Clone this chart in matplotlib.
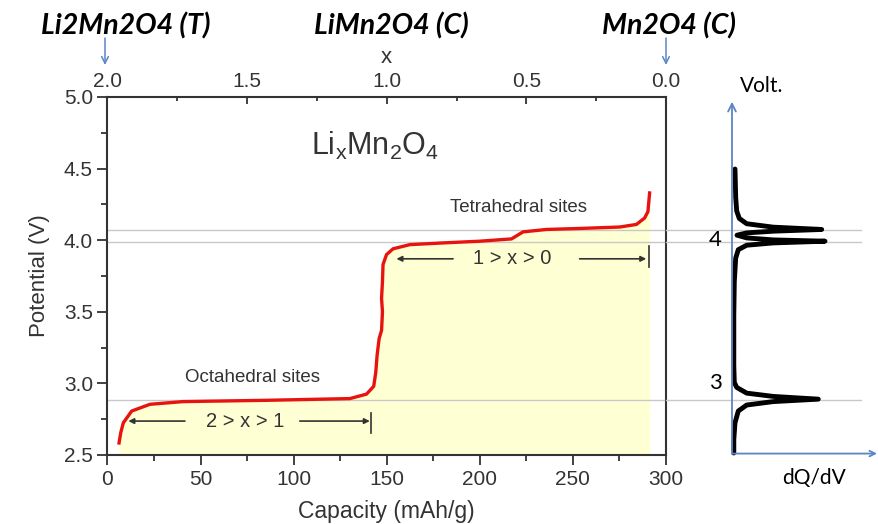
import numpy as np
import matplotlib
matplotlib.use("Agg")
from matplotlib import pyplot as plt

plt.rcParams['font.family'] = ['Liberation Sans', 'DejaVu Sans']
plt.rcParams['mathtext.fontset'] = 'custom'
plt.rcParams['mathtext.rm'] = 'Liberation Sans'
plt.rcParams['mathtext.it'] = 'Liberation Sans:italic'

# charge curve
capacity = [6.2, 7.1, 8.5, 13.0, 22.8, 40.7, 85.5, 130.2, 139.1, 140.9, 143.0, 144.1,
            144.8, 145.9, 147.2, 147.7, 147.2, 147.7, 148.0, 149.9, 153.4, 162.4,
            180.2, 199.9, 217.0, 223.2, 235.7, 253.6, 275.1, 284.1, 288.5, 290.3, 291.2]
potential = [2.584, 2.655, 2.725, 2.807, 2.854, 2.873, 2.882, 2.894, 2.925, 2.95, 2.98, 3.077,
             3.194, 3.312, 3.37, 3.50, 3.594, 3.711, 3.83, 3.90, 3.94, 3.969,
             3.981, 3.993, 4.009, 4.058, 4.075, 4.082, 4.092, 4.11, 4.155, 4.20, 4.33]

# dQ/dV trace (arbitrary units) vs voltage
dqdv_volt = [4.497, 4.298, 4.204, 4.152, 4.115, 4.091, 4.075, 4.063, 4.051, 4.035, 4.016,
             4.002, 3.993, 3.981, 3.965, 3.934, 3.875, 3.711, 3.476, 3.124, 3.007, 2.972,
             2.932, 2.909, 2.890, 2.873, 2.849, 2.807, 2.725, 2.608, 2.514]
dqdv_val = [3.0, 3.7, 4.7, 7.3, 14.7, 41.3, 89.7, 41.3, 14.7, 5.0, 14.7,
            41.3, 93.0, 41.3, 14.7, 6.3, 3.7, 2.3, 1.8, 1.8, 2.3, 4.7,
            14.7, 41.3, 86.3, 41.3, 14.7, 6.3, 3.0, 1.8, 1.8]

plateaus = [4.068, 3.988, 2.887]

cap_ticks = [0, 50, 100, 150, 200, 250, 300]
volt_ticks = [2.5, 3.0, 3.5, 4.0, 4.5, 5.0]
x_ticks = [2.0, 1.5, 1.0, 0.5, 0.0]

W, H = 879, 524
fig = plt.figure(figsize=(W / 100, H / 100), dpi=100)
ax = fig.add_axes([107.5 / W, 1 - 455 / H, (666 - 107.5) / W, (455 - 97) / H])

dark = '#333333'
ax.fill_between(capacity, 2.5, potential, color='#ffffd4', lw=0, zorder=1)
for v in plateaus:
    ax.axhline(v, color='#c8c8c8', lw=1, zorder=2)
ax.plot(capacity, potential, color='#e8130f', lw=2.4, zorder=3)

ax.set_xlim(0, 300)
ax.set_ylim(2.5, 5.0)
ax.set_xticks(cap_ticks)
ax.set_xticks(np.arange(25, 300, 50), minor=True)
ax.set_yticks(volt_ticks)
ax.set_yticks(np.arange(2.75, 5.0, 0.5), minor=True)
ax.yaxis.set_major_formatter(matplotlib.ticker.FormatStrFormatter('%.1f'))
ax.tick_params(which='major', direction='out', length=7, width=1.3, color=dark, labelsize=15, labelcolor=dark)
ax.tick_params(which='minor', direction='out', length=4, width=1.3, color=dark)
for s in ax.spines.values():
    s.set_color(dark)
    s.set_linewidth(1.5)
ax.set_xlabel('Capacity (mAh/g)', fontsize=16.5, color=dark, labelpad=8)
ax.set_ylabel('Potential (V)', fontsize=16, color=dark, labelpad=10)

top = ax.secondary_xaxis('top', functions=(lambda c: 2 - c / 150.0, lambda x: (2 - x) * 150.0))
top.set_xticks(x_ticks)
top.set_xticks([1.75, 1.25, 0.75, 0.25], minor=True)
top.xaxis.set_major_formatter(matplotlib.ticker.FormatStrFormatter('%.1f'))
top.tick_params(which='major', direction='in', length=5, width=1.3, color=dark, labelsize=15, labelcolor=dark, pad=4)
top.tick_params(which='minor', direction='in', length=3, width=1.3, color=dark)
top.spines['top'].set_visible(False)
top.set_xlabel('x', fontsize=16, color=dark, labelpad=7)

# annotations inside the plot
ax.text(143.6, 4.66, r'Li$_\mathrm{x}$Mn$_2$O$_4$', fontsize=22, color=dark, ha='center', va='center')
ax.text(221, 4.23, 'Tetrahedral sites', fontsize=13.5, color=dark, ha='center', va='center')
ax.text(77.8, 3.04, 'Octahedral sites', fontsize=13.5, color=dark, ha='center', va='center')
ax.text(73.8, 2.737, '2 > x > 1', fontsize=14.5, color=dark, ha='center', va='center')
ax.text(217.4, 3.87, '1 > x > 0', fontsize=14.5, color=dark, ha='center', va='center')
arr = dict(arrowstyle='-|>', color=dark, lw=1.2, mutation_scale=8, shrinkA=0, shrinkB=0)
ax.annotate('', xy=(11.2, 2.737), xytext=(41.6, 2.737), arrowprops=arr)
ax.annotate('', xy=(140.9, 2.737), xytext=(103.3, 2.737), arrowprops=arr)
ax.plot([141.8, 141.8], [2.655, 2.796], color=dark, lw=1.2)
ax.annotate('', xy=(155.2, 3.87), xytext=(185.6, 3.87), arrowprops=arr)
ax.annotate('', xy=(289.4, 3.87), xytext=(253.6, 3.87), arrowprops=arr)
ax.plot([290.7, 290.7], [3.81, 3.958], color=dark, lw=1.2)

# dQ/dV side panel
ax2 = fig.add_axes([732 / W, 1 - 455 / H, 145 / W, (455 - 97) / H])
ax2.set_xlim(0, 145)
ax2.set_ylim(2.5, 5.0)
ax2.axis('off')
for v in plateaus:
    ax2.plot([-66, 129], [v, v], color='#c8c8c8', lw=1, clip_on=False, zorder=1)
ax2.plot(dqdv_val, dqdv_volt, color='black', lw=3.5, solid_capstyle='round', zorder=3, clip_on=False)
blue = '#5b86c5'
ax2.annotate('', xy=(0, 4.967), xytext=(0, 2.51), annotation_clip=False,
             arrowprops=dict(arrowstyle='->', color=blue, lw=1.3, shrinkA=0, shrinkB=0, mutation_scale=14))
ax2.annotate('', xy=(145, 2.51), xytext=(0, 2.51), annotation_clip=False,
             arrowprops=dict(arrowstyle='->', color=blue, lw=1.3, shrinkA=0, shrinkB=0, mutation_scale=10))
side_font = ['Lato', 'DejaVu Sans']
fig.text(715 / W, 1 - 240 / H, '4', fontsize=16, family=side_font, ha='center', va='center')
fig.text(715 / W, 1 - 383 / H, '3', fontsize=16, family=side_font, ha='center', va='center')
fig.text(740 / W, 1 - 86 / H, 'Volt.', fontsize=15, family=side_font, ha='left', va='center')
fig.text(814 / W, 1 - 478 / H, 'dQ/dV', fontsize=15, family=side_font, ha='center', va='center')

# phase labels on top
for label, px in [('Li2Mn2O4 (T)', 126), ('LiMn2O4 (C)', 391), ('Mn2O4 (C)', 669)]:
    fig.text(px / W, 1 - 26 / H, label, fontsize=20.5, family=side_font, weight='bold',
             style='italic', ha='center', va='center')
for px in [105, 666]:
    ax.annotate('', xy=(px, H - 65), xytext=(px, H - 38), xycoords='figure pixels',
                annotation_clip=False,
                arrowprops=dict(arrowstyle='->', color=blue, lw=1.1, shrinkA=0, shrinkB=0, mutation_scale=12))

fig.savefig('out.png', dpi=100)
